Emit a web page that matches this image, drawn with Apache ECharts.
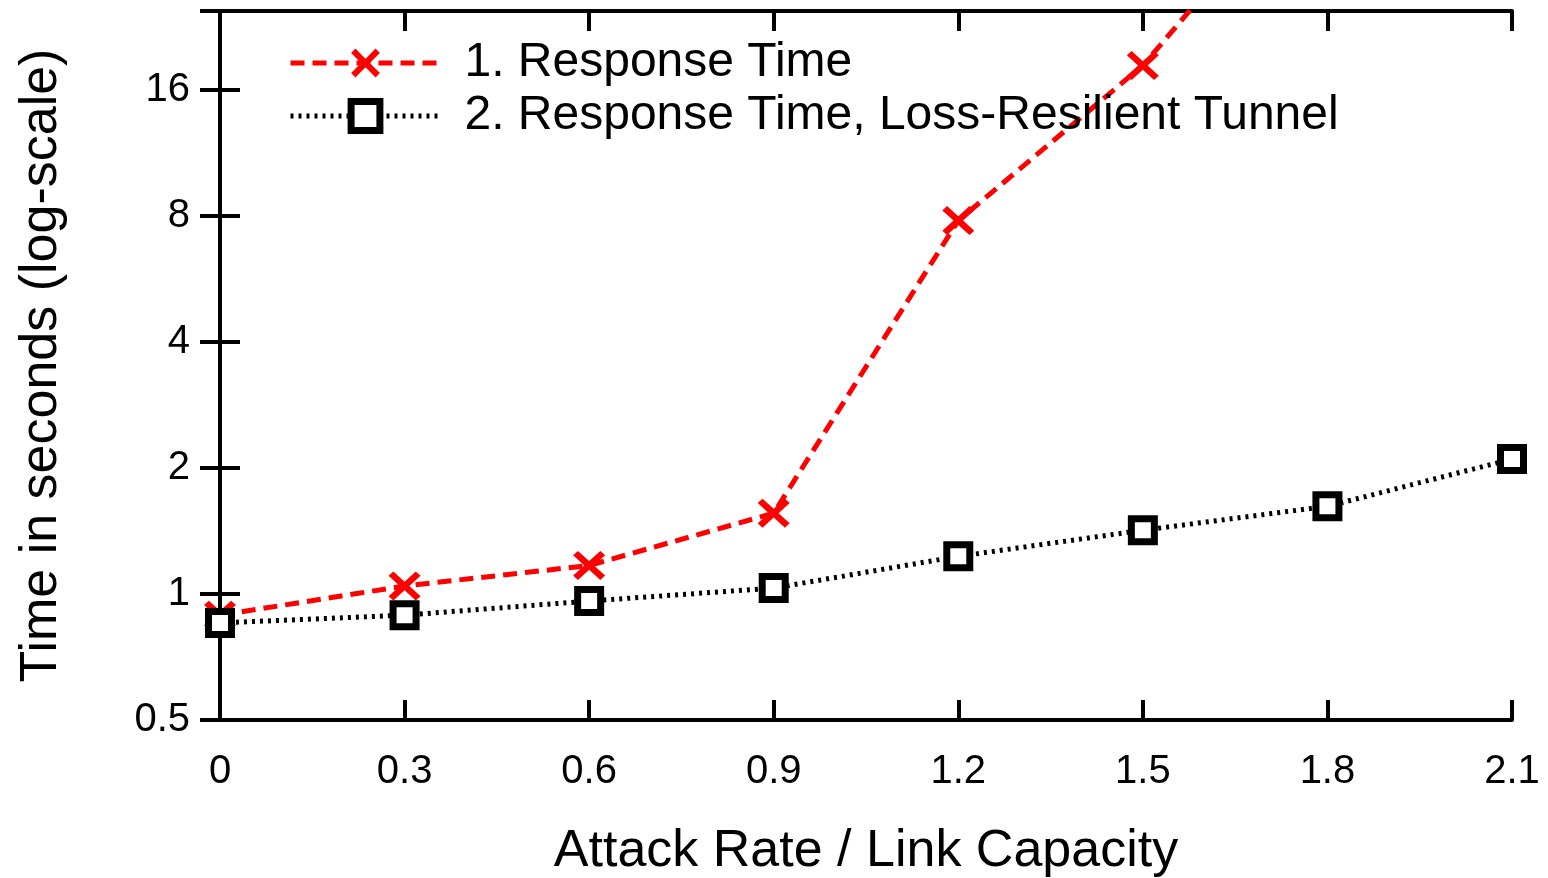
<!DOCTYPE html>
<html>
<head>
<meta charset="utf-8">
<script src="https://cdn.jsdelivr.net/npm/echarts@6/dist/echarts.min.js"></script>
<style>
  html, body { margin: 0; padding: 0; background: #fff; }
  #chart { width: 1548px; height: 878px; }
</style>
</head>
<body>
<div id="chart"></div>
<script>
// values (seconds, log scale)
const attackRate = [0, 0.3, 0.6, 0.9, 1.2, 1.5, 1.8, 2.1];
const responseTime = [0.89, 1.045, 1.17, 1.56, 7.8, 18.3, 60];
const tunnelTime = [0.853, 0.89, 0.962, 1.033, 1.23, 1.42, 1.62, 2.1];
const yTicks = [0.5, 1, 2, 4, 8, 16];

const font = 'Liberation Sans, Arial, sans-serif';
// thick "x" point type
const xMark = 'path://M0,1.5L1.5,0L5,3.5L8.5,0L10,1.5L6.5,5L10,8.5L8.5,10L5,6.5L1.5,10L0,8.5L3.5,5Z';

const redLine = {color: '#ff0000', width: 5, type: [14, 8]};
const blackLine = {color: '#000', width: 5, type: [3, 5]};
const squareStyle = {color: '#fff', borderColor: '#000', borderWidth: 7};

const chart = echarts.init(document.getElementById('chart'));

const tickStyle = {show: true, inside: true, length: 20, lineStyle: {color: '#000', width: 4}};
const axisLine = {show: true, lineStyle: {color: '#000', width: 4}};

chart.setOption({
  animation: false,
  backgroundColor: '#fff',
  grid: {left: 220, right: 36, top: 11, bottom: 158, outerBoundsMode: 'none', containLabel: false},
  legend: {
    orient: 'vertical',
    left: 283,
    top: 34,
    itemWidth: 150,
    itemHeight: 36,
    itemGap: 5,
    textStyle: {fontFamily: font, fontSize: 48, color: '#000', padding: [0, 0, 0, 19]},
    data: [
      {name: '1. Response Time', lineStyle: redLine, itemStyle: {color: '#ff0000', borderWidth: 0}},
      {name: '2. Response Time, Loss-Resilient Tunnel', lineStyle: blackLine, itemStyle: squareStyle}
    ]
  },
  xAxis: [
    {
      type: 'value',
      min: 0,
      max: 2.1,
      interval: 0.3,
      name: 'Attack Rate / Link Capacity',
      nameLocation: 'middle',
      nameGap: 106,
      nameTextStyle: {fontFamily: font, fontSize: 52, color: '#000'},
      axisLine: axisLine,
      axisTick: tickStyle,
      splitLine: {show: false},
      axisLabel: {fontFamily: font, fontSize: 40, color: '#000', margin: 32,
        formatter: (v) => String(Math.round(v * 10) / 10)}
    },
    {
      type: 'value',
      position: 'top',
      min: 0,
      max: 2.1,
      interval: 0.3,
      axisLine: axisLine,
      axisTick: tickStyle,
      splitLine: {show: false},
      axisLabel: {show: false}
    }
  ],
  yAxis: [
    {
      type: 'log',
      logBase: 2,
      min: yTicks[0],
      max: 24.7,
      name: 'Time in seconds (log-scale)',
      nameLocation: 'middle',
      nameGap: 152,
      nameTextStyle: {fontFamily: font, fontSize: 52, color: '#000'},
      axisLine: axisLine,
      axisTick: tickStyle,
      splitLine: {show: false},
      axisLabel: {fontFamily: font, fontSize: 40, color: '#000', margin: 30, showMaxLabel: false,
        formatter: (v) => yTicks.indexOf(+v) >= 0 ? String(v) : ''}
    },
    {
      type: 'log',
      logBase: 2,
      position: 'right',
      min: yTicks[0],
      max: 24.7,
      axisLine: axisLine,
      axisTick: tickStyle,
      splitLine: {show: false},
      axisLabel: {show: false}
    }
  ],
  series: [
    {
      name: '1. Response Time',
      type: 'line',
      clip: true,
      data: responseTime.map((v, i) => [attackRate[i], v]),
      symbol: xMark,
      symbolSize: [32, 29],
      lineStyle: redLine,
      itemStyle: {color: '#ff0000'}
    },
    {
      name: '2. Response Time, Loss-Resilient Tunnel',
      type: 'line',
      clip: true,
      data: tunnelTime.map((v, i) => [attackRate[i], v]),
      symbol: 'rect',
      symbolSize: 23,
      lineStyle: blackLine,
      itemStyle: squareStyle
    }
  ]
});
</script>
</body>
</html>
